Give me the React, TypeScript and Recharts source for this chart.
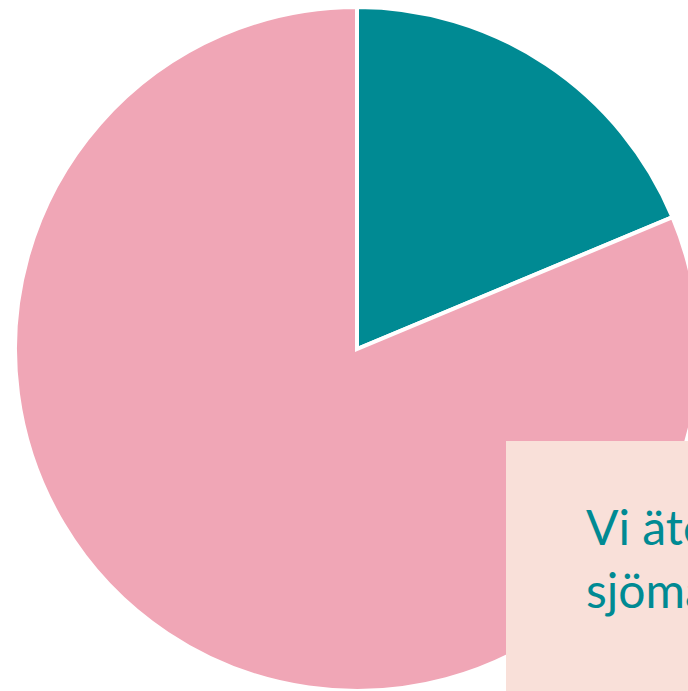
import React from "react";
import { PieChart, Pie, Cell } from "recharts";

const categories = ["Sjömat", "Övrigt"];
const values = [18.7, 81.3];
const colors = ["#008A93", "#F0A6B6"];
const calloutLines = ["Vi äter", "sjömat"];

const data = categories.map((name, i) => ({ name, value: values[i] }));

export default function App() {
  return (
    <div
      style={{
        position: "fixed",
        left: 0,
        top: 0,
        width: 688,
        height: 691,
        overflow: "hidden",
        background: "#ffffff",
      }}
    >
      <PieChart
        width={720}
        height={720}
        margin={{ top: 0, right: 0, bottom: 0, left: 0 }}
      >
        <Pie
          data={data}
          dataKey="value"
          nameKey="name"
          cx={357}
          cy={349}
          outerRadius={342}
          startAngle={90}
          endAngle={-270}
          stroke="#ffffff"
          strokeWidth={4}
          isAnimationActive={false}
        >
          {data.map((d, i) => (
            <Cell key={d.name} fill={colors[i]} />
          ))}
        </Pie>
      </PieChart>
      <div
        style={{
          position: "absolute",
          left: 506,
          top: 441,
          width: 260,
          height: 260,
          background: "#F9E0D9",
          boxSizing: "border-box",
          paddingLeft: 80,
          paddingTop: 54,
          fontFamily: "Lato, 'Open Sans', sans-serif",
          fontSize: 48,
          lineHeight: "63px",
          color: "#008A93",
          whiteSpace: "nowrap",
        }}
      >
        {calloutLines.map((t) => (
          <div key={t}>{t}</div>
        ))}
      </div>
    </div>
  );
}
